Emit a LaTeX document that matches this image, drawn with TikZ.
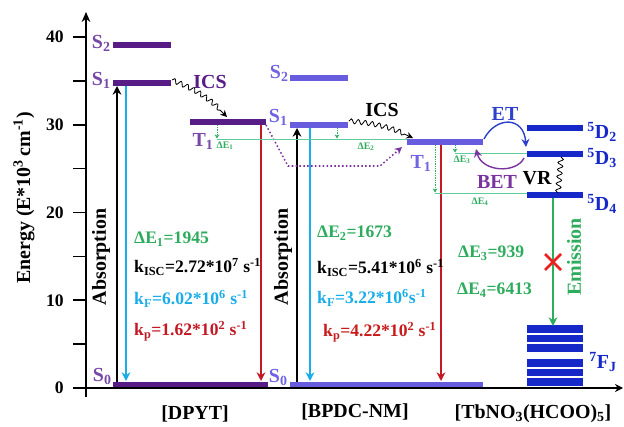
\documentclass[tikz,border=0pt]{standalone}
\usepackage{fontspec}
\setmainfont{Liberation Serif}
\usetikzlibrary{arrows.meta,decorations.pathmorphing,calc}
\definecolor{dpytcol}{RGB}{88,28,135}
\definecolor{dpytlab}{RGB}{118,72,168}
\definecolor{bpdccol}{RGB}{104,92,222}
\definecolor{bpdclab}{RGB}{112,100,226}
\definecolor{tbcol}{RGB}{22,40,200}
\definecolor{fluocol}{RGB}{24,172,232}
\definecolor{phoscol}{RGB}{196,24,36}
\definecolor{gapcol}{RGB}{44,172,92}
\definecolor{gapline}{RGB}{96,204,156}
\definecolor{etcol}{RGB}{44,64,204}
\definecolor{betcol}{RGB}{122,52,160}
\definecolor{xcol}{RGB}{236,32,32}
\newcommand{\bigf}{\fontsize{17}{19}\selectfont\bfseries}
\newcommand{\midf}{\fontsize{15}{17}\selectfont\bfseries}
\newcommand{\tinyf}{\fontsize{8.5}{9}\selectfont\bfseries}
\tikzset{
  axisline/.style={line width=1.3pt, black},
  ticklab/.style={font=\midf, anchor=east, inner sep=1pt},
  axlab/.style={font=\bigf, rotate=90},
  dlev/.style={line width=5pt, dpytcol},
  blev/.style={line width=4.6pt, bpdccol},
  tlev/.style={line width=5pt, tbcol},
  levlab/.style={font=\bigf, inner sep=1pt},
  absorb/.style={line width=1.5pt, black, -{Stealth[length=2.6mm,width=2.6mm]}},
  fluo/.style={line width=1.3pt, fluocol, -{Stealth[length=2.6mm,width=2.6mm]}},
  phos/.style={line width=1.3pt, phoscol, -{Stealth[length=2.6mm,width=2.6mm]}},
  ics/.style={black, line width=0.7pt, decorate,
    decoration={snake, amplitude=2pt, segment length=6pt, post length=2mm},
    -{Stealth[length=2mm,width=2mm]}},
  gapdrop/.style={gapcol, line width=0.5pt, densely dotted, -{Stealth[length=1.2mm,width=1.4mm]}},
  gapl/.style={gapline, line width=0.6pt},
  gaplab/.style={font=\tinyf, gapcol, inner sep=0pt},
  dotarrow/.style={betcol, line width=1.3pt, dotted, -{Stealth[length=2.2mm,width=2.2mm]}},
  txt/.style={font=\midf, anchor=west, inner sep=0pt},
  botlab/.style={font=\bigf, black}
}
\begin{document}
\begin{tikzpicture}[x=0.03cm,y=-0.03cm]
  \useasboundingbox (0,0) rectangle (624,427);
  % axes
  \draw[axisline,-{Stealth[length=3mm,width=2.6mm]}] (86,397) -- (86,12);
  \draw[axisline,-{Stealth[length=2.4mm,width=2.4mm]}] (73,388) -- (623,388);
  \foreach \e in {0,5,...,40}
    \draw[axisline] (73,{388-8.775*\e}) -- (86,{388-8.775*\e});
  \foreach \e in {0,10,...,40}
    \node[ticklab] (t\e) at (65,{388-8.775*\e}) {\e};
  \node[axlab] (ylab) at (24,198) {Energy (E*10\textsuperscript{3}\,cm\textsuperscript{-1})};

  % DPYT levels
  \draw[dlev] (113,45) -- (171,45);
  \draw[dlev] (113,83) -- (171,83);
  \draw[dlev] (190,122) -- (266,122);
  \draw[dlev] (113,384.5) -- (268,384.5);
  \node[levlab, dpytlab, anchor=east] (dS2) at (112,43) {S\textsubscript{2}};
  \node[levlab, dpytlab, anchor=east] (dS1) at (112,80) {S\textsubscript{1}};
  \node[levlab, dpytlab] (dT1) at (203,141) {T\textsubscript{1}};
  \node[levlab, dpytlab, anchor=east] (dS0) at (113,376) {S\textsubscript{0}};

  % BPDC-NM levels
  \draw[blev] (290,78) -- (348,78);
  \draw[blev] (290,125) -- (348,125);
  \draw[blev] (407,142) -- (483,142);
  \draw[blev] (290,384.5) -- (483,384.5);
  \node[levlab, bpdclab, anchor=east] (bS2) at (290,73) {S\textsubscript{2}};
  \node[levlab, bpdclab, anchor=east] (bS1) at (289,117) {S\textsubscript{1}};
  \node[levlab, bpdclab] (bT1) at (421,163) {T\textsubscript{1}};
  \node[levlab, bpdclab, anchor=east] (bS0) at (289,377) {S\textsubscript{0}};

  % Tb levels
  \draw[tlev] (527,128) -- (583,128);
  \draw[tlev] (527,154) -- (583,154);
  \draw[tlev] (527,195) -- (583,195);
  \foreach \yy in {329,338.5,348,363,372.5,382}
    \draw[tlev, line width=6.2pt] (527,\yy) -- (583,\yy);
  \node[levlab, tbcol, anchor=west] (D2) at (586,132) {\textsuperscript{5}D\textsubscript{2}};
  \node[levlab, tbcol, anchor=west] (D3) at (586,158) {\textsuperscript{5}D\textsubscript{3}};
  \node[levlab, tbcol, anchor=west] (D4) at (586,204) {\textsuperscript{5}D\textsubscript{4}};
  \node[levlab, tbcol, anchor=west] (FJ) at (588,362) {\textsuperscript{7}F\textsubscript{J}};

  % DPYT transitions
  \draw[absorb] (117,382) -- (117,86);
  \draw[fluo] (126,86) -- (126,381);
  \draw[phos] (261,125) -- (261,381);
  \node[axlab] (dabs) at (101,257) {Absorption};
  \draw[ics] (172,80) to[bend left=12] (227,117);
  \node[levlab, dpytcol] (dics) at (210,82) {ICS};

  % BPDC-NM transitions
  \draw[absorb] (297,382) -- (297,128);
  \draw[fluo] (310,128) -- (310,381);
  \draw[phos] (441,145) -- (441,381);
  \node[axlab] (babs) at (283,257) {Absorption};
  \draw[ics] (349,121) to[bend left=10] (413,138);
  \node[levlab, black] (bics) at (382,110) {ICS};
  \draw[dotarrow] (266,125) -- (288,166) -- (380,166) -- (402,147);

  % energy gaps
  \draw[gapl] (217,139) -- (407,139);
  \draw[gapdrop] (217,125) -- (217,138.5);
  \draw[gapdrop] (337,128) -- (337,138.5);
  \node[gaplab] (g1) at (225,146) {ΔE\textsubscript{1}};
  \node[gaplab] (g2) at (366,147) {ΔE\textsubscript{2}};
  \draw[gapl] (455,153) -- (527,153);
  \draw[gapdrop] (455,145) -- (455,152.5);
  \node[gaplab] (g3) at (462,160) {ΔE\textsubscript{3}};
  \draw[gapl] (435,193) -- (527,193);
  \draw[gapdrop] (435,145) -- (435,192.5);
  \node[gaplab] (g4) at (480,202) {ΔE\textsubscript{4}};

  % energy transfer
  \draw[etcol, line width=1.2pt, -{Stealth[length=2.4mm,width=2.4mm]}]
    (484,139) .. controls (496,116) and (524,116) .. (526,147);
  \node[levlab, etcol] (et) at (505,114) {ET};
  \draw[betcol, line width=1.2pt, -{Stealth[length=2.4mm,width=2.4mm]}]
    (524,158) .. controls (516,174) and (482,172) .. (476,149);
  \node[levlab, betcol] (bet) at (497,182) {BET};
  \draw[black, line width=0.7pt, decorate,
    decoration={snake, amplitude=2.2pt, segment length=6pt}] (561,157) -- (558,193);
  \node[levlab, black] (vr) at (537,178) {VR};
  \draw[gapcol, line width=1.4pt, -{Stealth[length=2.6mm,width=2.6mm]}] (553,198) -- (553,326);
  \draw[xcol, line width=2.2pt] (545,254) -- (561,270) (561,254) -- (545,270);
  \node[axlab, gapcol] (emis) at (574,257) {Emission};

  % rate constants
  \node[txt, gapcol] (r1) at (134,239) {ΔE\textsubscript{1}=1945};
  \node[txt, black] (r2) at (134,267) {k\textsubscript{ISC}=2.72*10\textsuperscript{7} s\textsuperscript{-1}};
  \node[txt, fluocol] (r3) at (134,299) {k\textsubscript{F}=6.02*10\textsuperscript{6} s\textsuperscript{-1}};
  \node[txt, phoscol] (r4) at (134,331) {k\textsubscript{p}=1.62*10\textsuperscript{2} s\textsuperscript{-1}};
  \node[txt, gapcol] (r5) at (317,233) {ΔE\textsubscript{2}=1673};
  \node[txt, black] (r6) at (317,268) {k\textsubscript{ISC}=5.41*10\textsuperscript{6} s\textsuperscript{-1}};
  \node[txt, fluocol] (r7) at (317,298) {k\textsubscript{F}=3.22*10\textsuperscript{6}s\textsuperscript{-1}};
  \node[txt, xcol!85!black] (r8) at (323,332) {k\textsubscript{p}=4.22*10\textsuperscript{2} s\textsuperscript{-1}};
  \node[txt, gapcol] (r9) at (458,253) {ΔE\textsubscript{3}=939};
  \node[txt, gapcol] (r10) at (457,290) {ΔE\textsubscript{4}=6413};

  % compounds
  \node[botlab] (nDPYT) at (195,414) {[DPYT]};
  \node[botlab] (nBPDC) at (355,412) {[BPDC-NM]};
  \node[botlab] (nTb) at (533,414) {[TbNO\textsubscript{3}(HCOO)\textsubscript{5}]};
\end{tikzpicture}
\end{document}
